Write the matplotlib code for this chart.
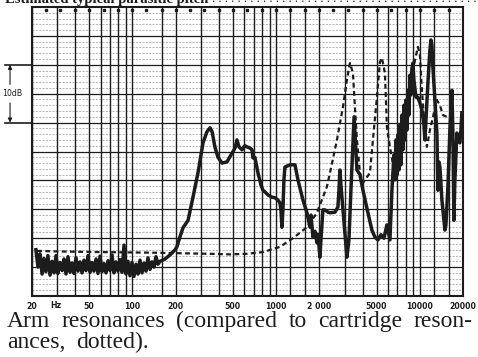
import matplotlib
matplotlib.use("Agg")
import matplotlib.pyplot as plt
from matplotlib.transforms import blended_transform_factory

# Arm resonance trace (frequency in Hz, level in dB)
arm_freq = [21.3, 22.0, 22.7, 23.5, 24.2, 25.0, 25.8, 26.7, 27.6, 28.5,
            29.4, 30.3, 31.3, 32.4, 33.4, 34.5, 35.6, 36.8, 38.0, 39.2,
            40.5, 41.8, 43.2, 44.6, 46.0, 47.5, 49.1, 50.7, 52.3, 54.0,
            55.8, 57.6, 59.5, 61.4, 63.4, 65.5, 67.6, 69.8, 72.1, 74.4,
            76.8, 79.3, 81.9, 84.6, 87.4, 90.2, 93.1, 96.2, 99.3, 102.5,
            105.9, 109.3, 112.9, 116.6, 120.4, 124.3, 128.3, 132.5, 136.8, 141.3,
            145.9, 150.6, 155.5,
            168.5, 182.5, 198, 204, 214, 225, 244, 264, 286, 310,
            330, 347, 359, 375, 394, 420, 455, 493, 518, 534,
            552, 579, 606, 627, 658, 680, 690, 712, 748, 785,
            810, 837, 878, 935, 982, 1030, 1064, 1081, 1098, 1116,
            1134, 1152, 1249, 1353, 1420, 1538, 1640, 1721, 1749, 1805,
            1864, 1925, 1956, 2019, 2052, 2118, 2188, 2296, 2371, 2569,
            2694, 2738, 2782, 2827, 2873, 3014, 3112, 3214, 3318, 3490,
            3654, 3834, 4023, 4358, 4645, 4875, 5114, 5368, 5632, 5908,
            6100, 6200, 6402, 6506, 6610, 6717, 6826, 6934, 7047, 7162,
            7277, 7396, 7515, 7636, 7759, 7884, 8011, 8140, 8272, 8405,
            8541, 8679, 8820, 8963, 9108, 9405, 9711, 10027, 10352, 10690,
            10862, 11038, 11398, 11770, 11958, 12150, 12346, 12752, 13164, 13380,
            13597, 13816, 14266, 14498, 14965, 15209, 15703, 16210, 16740, 17010,
            17286, 17564, 18140, 18430, 19030, 19340, 19646]
arm_db = [8.0, 5.0, 7.3, 3.8, 6.5, 4.2, 7.0, 3.6, 6.0, 4.0,
          7.0, 3.9, 5.8, 4.4, 6.4, 3.8, 6.8, 4.1, 5.7, 3.9,
          6.6, 4.3, 5.9, 4.0, 6.2, 4.4, 7.0, 4.1, 5.8, 4.3,
          6.4, 3.9, 6.9, 4.2, 5.6, 4.0, 6.1, 4.4, 7.1, 4.0,
          5.9, 4.3, 6.3, 4.1, 8.8, 3.8, 6.0, 3.5, 5.8, 3.4,
          5.5, 3.8, 6.2, 4.0, 5.7, 4.3, 6.6, 4.6, 5.9, 5.0,
          6.8, 5.5, 6.0,
          6.4, 7.1, 8.0, 8.5, 10.2, 11.8, 13.1, 17.1, 21.3, 26.5,
          28.4, 29.1, 28.4, 25.8, 24.0, 23.0, 23.2, 24.7, 25.6, 27.0,
          25.8, 25.3, 26.0, 25.8, 25.6, 25.3, 23.9, 24.0, 21.3, 19.2,
          18.3, 18.0, 17.5, 17.1, 17.0, 16.6, 16.1, 14.9, 11.9, 14.9,
          20.1, 22.3, 22.7, 22.7, 20.1, 16.6, 14.4, 11.9, 14.0, 10.2,
          11.2, 9.2, 10.7, 6.7, 9.7, 14.9, 14.9, 14.5, 14.4, 14.5,
          15.4, 18.3, 21.8, 19.2, 17.1, 10.9, 6.7, 9.7, 18.3, 31.0,
          21.8, 21.0, 18.3, 14.4, 11.4, 10.2, 9.7, 10.6, 10.0, 12.3,
          10.6, 9.7, 18.3, 21.3, 24.4, 20.1, 27.0, 20.9, 27.9, 21.8,
          29.6, 22.7, 31.3, 25.3, 33.0, 27.0, 33.9, 28.7, 35.6, 31.3,
          38.2, 34.8, 39.4, 40.3, 37.4, 34.4, 34.4, 33.4, 32.2, 29.6,
          27.0, 30.4, 36.9, 42.6, 44.3, 43.4, 39.6, 33.9, 28.2, 18.3,
          23.2, 22.3, 16.6, 14.9, 11.4, 12.3, 18.9, 28.7, 35.6, 28.2,
          13.1, 20.1, 28.2, 27.0, 26.5, 28.7, 31.7]

# Cartridge resonance trace (dotted)
cart_freq = [21.7, 31.3, 59.5, 132.5, 214, 347, 477, 627, 810, 1064,
             1310, 1640, 1925, 2258, 2371, 2652, 2920, 3112, 3266, 3427,
             3538, 3654, 3834, 4023, 4500, 4721, 5034, 5282, 5453, 5722,
             5908, 6200, 6717, 7277, 7884, 8541, 9256, 9711, 10027, 10352,
             10862, 11216, 11770, 12550, 13164, 13816, 14498, 15454]
cart_db = [7.8, 7.7, 7.6, 7.5, 7.4, 7.3, 7.2, 7.3, 7.6, 8.5,
           10.0, 11.9, 14.4, 18.9, 21.3, 27.0, 32.7, 37.4, 40.3, 38.6,
           32.7, 27.0, 21.3, 19.6, 21.3, 27.0, 34.4, 40.5, 41.2, 38.6,
           29.2, 25.8, 20.9, 23.5, 28.7, 34.8, 40.8, 43.1, 41.7, 35.6,
           28.7, 25.8, 28.7, 31.7, 33.9, 33.0, 31.3, 31.0]

tick_freqs = [20, 50, 100, 200, 500, 1000, 2000, 5000, 10000, 20000]
tick_labels = ["20", "50", "100", "200", "500", "1000", "2 000", "5000", "10000", "20000"]
grid_freqs = [20, 30, 40, 50, 60, 70, 80, 90, 100, 160, 200, 300, 400, 500,
              600, 700, 800, 900, 1000, 1250, 1600, 2000, 3000, 4000, 5000,
              6000, 7000, 8000, 9000, 10000, 12500, 16000, 20000]
band_centres = [25, 31.5, 40, 50, 63, 80, 100, 125, 160, 200, 250, 315, 400,
                500, 630, 800, 1000, 1250, 1600, 2000, 2500, 3150, 4000, 5000,
                6300, 8000, 10000, 12500, 16000]
caption_line1 = ["Arm", "resonances", "(compared", "to", "cartridge", "reson-"]
caption_line2 = ["ances,", "dotted)."]
heading = "Estimated typical parasitic pitch"

W, H = 478, 357
fig = plt.figure(figsize=(W / 100, H / 100), dpi=100)
fig.patch.set_facecolor("white")
ax = fig.add_axes([32 / W, 1 - 296 / H, (463 - 32) / W, (296 - 7) / H])
ax.set_xscale("log")
ax.set_xlim(20, 20000)
ax.set_ylim(0, 50)

ink = "#1c1c1c"

# chart paper: fine 1 dB rulings, heavy 5 dB rulings, frequency lines
for d in range(1, 50):
    if d % 5:
        ax.axhline(d, color="#9a9a9a", lw=0.5, ls=(0, (3, 1.8)), zorder=1)
    else:
        ax.axhline(d, color=ink, lw=0.9, zorder=1)
for f in grid_freqs:
    ax.axvline(f, color=ink, lw=1.0, zorder=1)
ax.plot(band_centres, [49.55] * len(band_centres), ls="none", marker="s",
        ms=2.0, color=ink, zorder=2, clip_on=False)

ax.plot(cart_freq, cart_db, color=ink, lw=1.6, dashes=(2.2, 1.5), zorder=3)
ax.plot(arm_freq, arm_db, color=ink, lw=2.5, solid_joinstyle="round", zorder=4)

for s in ax.spines.values():
    s.set_linewidth(1.5)
    s.set_color(ink)

ax.yaxis.set_major_locator(plt.NullLocator())
ax.yaxis.set_minor_locator(plt.NullLocator())
ax.xaxis.set_minor_locator(plt.NullLocator())
ax.set_xticks(tick_freqs)
ax.set_xticklabels(tick_labels)
ax.tick_params(axis="x", length=0, pad=4.5, labelsize=5.6, labelcolor=ink)
for lab in ax.get_xticklabels():
    lab.set_fontweight("bold")
ax.text(29.5, -1.6, "Hz", ha="center", va="center", fontsize=5.6,
        fontweight="bold", color=ink, clip_on=False)

# 10 dB scale bar at the left margin
tr = blended_transform_factory(ax.transAxes, ax.transData)
for d in (30, 40):
    ax.plot([-0.062, -0.002], [d, d], transform=tr, color=ink, lw=1.2,
            clip_on=False)
for tip, tail in ((40, 36.6), (30, 33.4)):
    ax.annotate("", xy=(-0.051, tip), xytext=(-0.051, tail), xycoords=tr,
                textcoords=tr, annotation_clip=False,
                arrowprops=dict(arrowstyle="-|>", color=ink, lw=0.8,
                                mutation_scale=6, shrinkA=0, shrinkB=0))
ax.text(-0.045, 35, "10dB", transform=tr, ha="center", va="center",
        fontsize=5.6, color=ink)

# heading line running off the top of the page
fig.text(5 / W, 1 - 2.5 / H, heading, ha="left", va="baseline",
         fontsize=10.5, fontweight="bold", family="Liberation Serif", color=ink)
fig.text(212 / W, 1 - 2.5 / H, ". " * 44, ha="left", va="baseline",
         fontsize=9, family="Liberation Serif", color=ink)

# caption: first line justified between the margins
cap_kw = dict(fontsize=17, va="baseline", family="Liberation Serif", color=ink)
fig.canvas.draw()
renderer = fig.canvas.get_renderer()
words = [fig.text(0, 0, w, **cap_kw) for w in caption_line1]
widths = [t.get_window_extent(renderer).width for t in words]
left, right = 7, 472
gap = (right - left - sum(widths)) / (len(words) - 1)
xp = left
for t, wd in zip(words, widths):
    t.set_position((xp / W, 1 - 327 / H))
    xp += wd + gap
# second line uses the same word spacing as the first
xp = left
for w in caption_line2:
    t = fig.text(xp / W, 1 - 348 / H, w, **cap_kw)
    xp += t.get_window_extent(renderer).width + gap

fig.savefig("out.png", dpi=100, facecolor="white")
